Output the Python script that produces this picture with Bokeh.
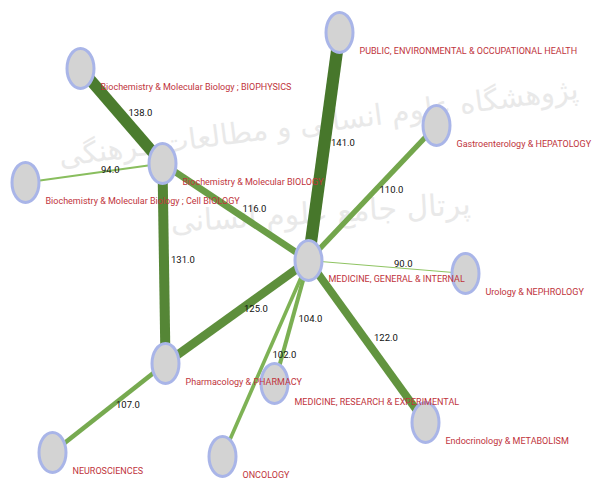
from bokeh.plotting import figure
from bokeh.models import Range1d, ColumnDataSource
from bokeh.core.properties import value
from bokeh.embed import file_html
from bokeh.resources import INLINE

# ---- data ----
node_names = [
    "Biochemistry & Molecular Biology ; BIOPHYSICS",
    "Biochemistry & Molecular Biology ; Cell BIOLOGY",
    "Biochemistry & Molecular BIOLOGY",
    "PUBLIC, ENVIRONMENTAL & OCCUPATIONAL HEALTH",
    "Gastroenterology & HEPATOLOGY",
    "MEDICINE, GENERAL & INTERNAL",
    "Urology & NEPHROLOGY",
    "MEDICINE, RESEARCH & EXPERIMENTAL",
    "Endocrinology & METABOLISM",
    "Pharmacology & PHARMACY",
    "NEUROSCIENCES",
    "ONCOLOGY",
]
# layout positions (screen-like coordinates, y grows downward)
node_x = [80, 25, 162, 339, 436, 308, 465, 274, 425, 165, 52, 222]
node_y = [68, 182, 163, 32, 125, 260, 273, 383, 422, 363, 452, 456]

edge_src = [0, 1, 2, 2, 3, 4, 5, 5, 5, 5, 5, 9]
edge_dst = [2, 2, 5, 9, 5, 5, 6, 9, 7, 11, 8, 10]
edge_weight = [138.0, 94.0, 116.0, 131.0, 141.0, 110.0, 90.0, 125.0, 104.0, 102.0, 122.0, 107.0]

watermark_1 = "پژوهشگاه علوم انسانی و مطالعات فرهنگی"
watermark_2 = "پرتال جامع علوم انسانی"

# ---- styling helpers ----
def mix(c1, c2, t):
    a = [int(c1[i:i + 2], 16) for i in (1, 3, 5)]
    b = [int(c2[i:i + 2], 16) for i in (1, 3, 5)]
    return "#%02x%02x%02x" % tuple(round(a[k] + (b[k] - a[k]) * t) for k in range(3))

wmin, wmax = min(edge_weight), max(edge_weight)
x0 = [node_x[s] for s in edge_src]
y0 = [node_y[s] for s in edge_src]
x1 = [node_x[d] for d in edge_dst]
y1 = [node_y[d] for d in edge_dst]
widths = [1 + (w - wmin) * 0.22 for w in edge_weight]
colors = [mix("#8fc462", "#47772b", (w - wmin) / (wmax - wmin)) for w in edge_weight]
edge_lbl = ["%.1f" % w for w in edge_weight]
lx = [(a + b) / 2 + 7 for a, b in zip(x0, x1)]
ly = [(a + b) / 2 - 4 for a, b in zip(y0, y1)]

edges = ColumnDataSource(dict(x0=x0, y0=y0, x1=x1, y1=y1, w=widths, c=colors,
                              lx=lx, ly=ly, lbl=edge_lbl))
nodes = ColumnDataSource(dict(x=node_x, y=node_y, name=node_names,
                              tx=[v + 20 for v in node_x], ty=[v + 18 for v in node_y]))

p = figure(width=593, height=479, x_range=Range1d(0, 593), y_range=Range1d(479, 0),
           toolbar_location=None, output_backend="svg", min_border=0,
           x_axis_location=None, y_axis_location=None)
p.grid.visible = False
p.outline_line_color = None
p.background_fill_color = "white"

# faint watermark
p.text(x=[318], y=[122], text=[watermark_1], text_font=value("DejaVu Sans"),
       text_font_size="29px", text_color="#e9e9e9", text_align="center",
       text_baseline="middle", angle=0.13)
p.text(x=[320], y=[212], text=[watermark_2], text_font=value("DejaVu Sans"),
       text_font_size="30px", text_color="#e9e9e9", text_align="center",
       text_baseline="middle", angle=0.06)

p.segment(x0="x0", y0="y0", x1="x1", y1="y1", line_width="w", line_color="c",
          line_cap="butt", source=edges)
p.text(x="lx", y="ly", text="lbl", source=edges, text_font=value("Roboto"),
       text_font_size="9.5px", text_color="#111111", text_align="left",
       text_baseline="middle")
p.ellipse(x="x", y="y", width=27, height=40, fill_color="#d3d3d3",
          line_color="#a9b5e8", line_width=3, source=nodes)
p.text(x="tx", y="ty", text="name", source=nodes, text_font=value("Roboto"),
       text_font_size="9px", text_color="#c0343c", text_align="left",
       text_baseline="middle")

open("out.html", "w").write(file_html(p, INLINE))
